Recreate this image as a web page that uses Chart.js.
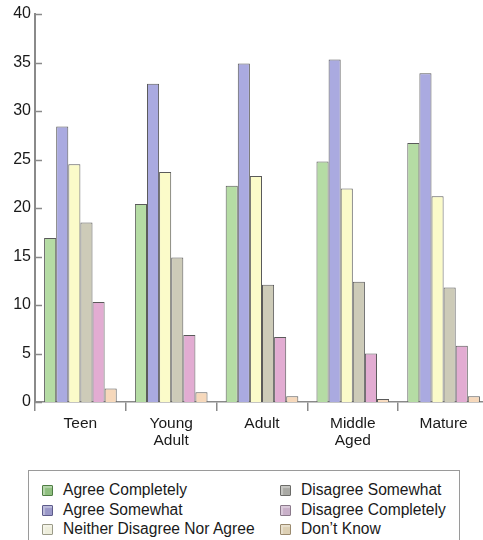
<!DOCTYPE html>
<html>
<head>
<meta charset="utf-8">
<script src="https://cdn.jsdelivr.net/npm/chart.js@4/dist/chart.umd.min.js"></script>
<style>
  html, body { margin: 0; padding: 0; background: #fff; overflow: hidden; width: 483px; height: 540px; }
  #wrap { position: absolute; left: 0; top: 0; width: 490px; height: 452px; }
  #legend {
    position: absolute; left: 28px; top: 470px; width: 432px; height: 80px;
    border: 1.5px solid #9a9a9a; box-sizing: border-box;
    font-family: "Liberation Sans", Arial, sans-serif; font-size: 15.6px; color: #1a1a1a;
  }
  .item { position: absolute; height: 18px; line-height: 18px; white-space: nowrap; }
  .swatch {
    position: absolute; left: 0; top: 4px; width: 9px; height: 9px;
    border: 1px solid; border-radius: 1px;
  }
  .label { position: absolute; left: 21px; top: 0; }
</style>
</head>
<body>
<div id="wrap"><canvas id="c"></canvas></div>
<div id="legend"></div>
<script>
// Age groups along the x axis
const categories = ["Teen", ["Young", "Adult"], "Adult", ["Middle", "Aged"], "Mature"];

// Survey response shares (%) per age group
const agreeCompletely   = [16.9, 20.4, 22.3, 24.8, 26.7];
const agreeSomewhat     = [28.4, 32.8, 34.9, 35.3, 33.9];
const neither           = [24.5, 23.7, 23.3, 22.0, 21.2];
const disagreeSomewhat  = [18.5, 14.9, 12.1, 12.4, 11.8];
const disagreeCompletely= [10.3, 6.9, 6.7, 5.0, 5.8];
const dontKnow          = [1.4, 1.0, 0.6, 0.3, 0.6];

const yTicks = [0, 5, 10, 15, 20, 25, 30, 35, 40];

const seriesNames = ["Agree Completely", "Agree Somewhat", "Neither Disagree Nor Agree",
                     "Disagree Somewhat", "Disagree Completely", "Don\u2019t Know"];
const seriesData = [agreeCompletely, agreeSomewhat, neither, disagreeSomewhat, disagreeCompletely, dontKnow];
const fills = ["#b5dca4", "#aaaae0", "#fbfbc9", "#cdcbb8", "#e2acd2", "#f6d8bb"];
const swatchFill = ["#8fbf7f", "#9a98c8", "#eeeedc", "#a9a9a4", "#c9b0c9", "#ddd0b4"];
const swatchEdge = ["#4f7d44", "#5d5b8a", "#9a9a88", "#6b6b68", "#8b7a8b", "#9a8a6e"];

// small inward tick marks on the value axis
const innerTicks = {
  id: 'innerTicks',
  afterDatasetsDraw(chart) {
    const y = chart.scales.y, ctx = chart.ctx, x0 = chart.chartArea.left;
    ctx.save();
    ctx.strokeStyle = '#8a8a8a';
    ctx.lineWidth = 1.5;
    y.ticks.forEach(t => {
      const py = Math.round(y.getPixelForValue(t.value)) + 0.5;
      ctx.beginPath();
      ctx.moveTo(x0, py);
      ctx.lineTo(x0 + 7, py);
      ctx.stroke();
    });
    ctx.restore();
  }
};

new Chart(document.getElementById('c'), {
  type: 'bar',
  data: {
    labels: categories,
    datasets: seriesNames.map((name, i) => ({
      label: name,
      data: seriesData[i],
      backgroundColor: fills[i],
      borderColor: '#5a5a5a',
      borderWidth: 1,
      borderSkipped: 'bottom',
      categoryPercentage: 0.8,
      barPercentage: 1.0
    }))
  },
  options: {
    responsive: true,
    maintainAspectRatio: false,
    animation: false,
    layout: { padding: { top: 14, right: 1, left: 0, bottom: 0 } },
    plugins: { legend: { display: false }, tooltip: { enabled: false } },
    scales: {
      x: {
        grid: { display: true, drawOnChartArea: false, offset: true, tickLength: 9, color: '#8a8a8a', lineWidth: 1.5 },
        border: { display: true, color: '#8a8a8a', width: 1.5 },
        ticks: { color: '#1a1a1a', font: { family: 'Liberation Sans', size: 15.5, lineHeight: 1.1 }, maxRotation: 0, autoSkip: false, padding: 4 },
        afterFit(s) { s.height = 50; }
      },
      y: {
        min: 0, max: 40,
        afterBuildTicks(s) { s.ticks = yTicks.map(v => ({ value: v })); },
        grid: { display: false, drawTicks: false },
        border: { display: true, color: '#8a8a8a', width: 2 },
        ticks: { color: '#1a1a1a', font: { family: 'Liberation Sans', size: 16 }, padding: 4 },
        afterFit(s) { s.width = 35; }
      }
    }
  },
  plugins: [innerTicks]
});

// two-column legend below the chart
const legend = document.getElementById('legend');
seriesNames.forEach((name, i) => {
  const col = Math.floor(i / 3), row = i % 3;
  const item = document.createElement('div');
  item.className = 'item';
  item.style.left = (col === 0 ? 13 : 251) + 'px';
  item.style.top = (10 + row * 19.7) + 'px';
  const sw = document.createElement('span');
  sw.className = 'swatch';
  sw.style.background = swatchFill[i];
  sw.style.borderColor = swatchEdge[i];
  sw.style.boxShadow = 'inset 2px 2px 1px rgba(255,255,255,0.35)';
  const lb = document.createElement('span');
  lb.className = 'label';
  lb.textContent = name;
  item.appendChild(sw);
  item.appendChild(lb);
  legend.appendChild(item);
});
</script>
</body>
</html>
